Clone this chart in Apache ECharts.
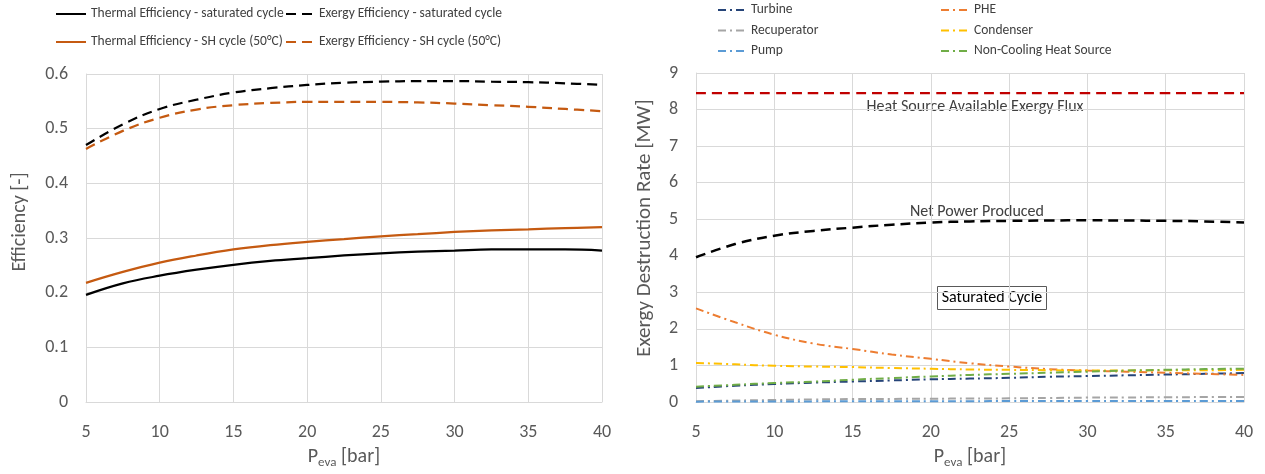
<!DOCTYPE html>
<html>
<head>
<meta charset="utf-8">
<script src="https://cdn.jsdelivr.net/npm/echarts@6/dist/echarts.min.js"></script>
<style>
  html, body { margin: 0; padding: 0; background: #fff; }
  #chart { width: 1265px; height: 474px; }
</style>
</head>
<body>
<div id="chart"></div>
<script>
// Evaporation pressure [bar]
const pEva = [5, 7.5, 10, 12.5, 15, 17.5, 20, 22.5, 25, 27.5, 30, 32.5, 35, 37.5, 40];

// Left panel: cycle efficiencies [-]
const thermalSat = [0.196, 0.217, 0.231, 0.242, 0.251, 0.258, 0.263, 0.268, 0.272, 0.275, 0.277, 0.279, 0.279, 0.279, 0.277];
const exergySat  = [0.470, 0.508, 0.536, 0.553, 0.566, 0.574, 0.580, 0.584, 0.586, 0.587, 0.587, 0.586, 0.585, 0.583, 0.580];
const thermalSH  = [0.218, 0.238, 0.255, 0.268, 0.279, 0.287, 0.293, 0.298, 0.303, 0.307, 0.311, 0.314, 0.316, 0.318, 0.320];
const exergySH   = [0.463, 0.496, 0.520, 0.535, 0.543, 0.547, 0.549, 0.549, 0.549, 0.548, 0.546, 0.543, 0.540, 0.536, 0.532];

// Right panel: exergy flows and destruction rates [MW], saturated cycle
const heatSourceFlux = [8.45, 8.45, 8.45, 8.45, 8.45, 8.45, 8.45, 8.45, 8.45, 8.45, 8.45, 8.45, 8.45, 8.45, 8.45];
const netPower       = [3.96, 4.32, 4.55, 4.68, 4.77, 4.85, 4.91, 4.94, 4.955, 4.965, 4.97, 4.965, 4.955, 4.94, 4.91];
const turbine        = [0.38, 0.445, 0.49, 0.53, 0.56, 0.59, 0.62, 0.64, 0.66, 0.69, 0.71, 0.73, 0.75, 0.77, 0.79];
const phe            = [2.56, 2.18, 1.84, 1.60, 1.45, 1.30, 1.18, 1.06, 0.97, 0.90, 0.86, 0.83, 0.80, 0.77, 0.74];
const recuperator    = [0.02, 0.04, 0.055, 0.07, 0.08, 0.085, 0.09, 0.095, 0.10, 0.11, 0.12, 0.125, 0.13, 0.135, 0.14];
const condenser      = [1.07, 1.03, 0.99, 0.97, 0.955, 0.93, 0.91, 0.89, 0.88, 0.87, 0.86, 0.86, 0.87, 0.87, 0.88];
const pump           = [0.01, 0.012, 0.015, 0.017, 0.02, 0.021, 0.022, 0.023, 0.025, 0.026, 0.027, 0.028, 0.029, 0.03, 0.03];
const nonCooling     = [0.42, 0.47, 0.52, 0.555, 0.61, 0.655, 0.70, 0.74, 0.77, 0.80, 0.83, 0.86, 0.88, 0.90, 0.91];

const FONT = 'Carlito, Lato';
const GRID = '#d9d9d9';
const TICK = '#595959';
const DASH = [10, 6];
const DASHDOT = [8, 4, 2, 4];

const pairs = ys => pEva.map((x, i) => [x, ys[i]]);

function lineSeries(name, ys, axis, color, width, type) {
  return {
    name, type: 'line', xAxisIndex: axis, yAxisIndex: axis,
    data: pairs(ys), smooth: 0.4, symbol: 'none',
    lineStyle: { color, width, type },
    itemStyle: { color },
    emphasis: { disabled: true }
  };
}

function xAxisFor(gridIndex) {
  return {
    type: 'value', gridIndex, min: 5, max: 40, interval: 5,
    axisLine: { show: true, lineStyle: { color: GRID, width: 1 } },
    axisTick: { show: false },
    axisLabel: { color: TICK, fontSize: 18, fontFamily: FONT, margin: 21 },
    splitLine: { show: true, lineStyle: { color: GRID, width: 1 } },
    name: '{p|P}{s|eva}{p| [bar]}',
    nameLocation: 'middle', nameGap: 43,
    nameTextStyle: {
      rich: {
        p: { fontSize: 20, color: TICK, fontFamily: FONT },
        s: { fontSize: 13, color: TICK, fontFamily: FONT, verticalAlign: 'bottom', padding: [11, 0, 0, 0] }
      }
    }
  };
}

function yAxisFor(gridIndex, max) {
  return {
    type: 'value', gridIndex, min: 0, max, interval: max === 9 ? 1 : 0.1,
    axisLine: { show: true, lineStyle: { color: GRID, width: 1 } },
    axisTick: { show: false },
    axisLabel: { color: TICK, fontSize: 18, fontFamily: FONT, margin: 18 },
    splitLine: { show: true, lineStyle: { color: GRID, width: 1 } }
  };
}

const legendText = { color: '#404040', fontSize: 13.5, fontFamily: FONT };
// legend keys show only the line sample, no symbol
const keyStyle = { color: 'transparent', borderWidth: 0 };

function legendColumn(names, left, top, itemWidth, itemGap) {
  return {
    data: names, orient: 'vertical', left, top, padding: 0,
    itemWidth, itemHeight: 14, itemGap,
    itemStyle: keyStyle, textStyle: legendText
  };
}

const option = {
  animation: false,
  textStyle: { fontFamily: FONT },
  grid: [
    { left: 86, right: 663, top: 74, bottom: 67 },
    { left: 696, right: 21, top: 73, bottom: 67 }
  ],
  xAxis: [xAxisFor(0), xAxisFor(1)],
  yAxis: [yAxisFor(0, 0.6), yAxisFor(1, 9)],
  legend: [
    legendColumn(['Thermal Efficiency - saturated cycle', 'Thermal Efficiency - SH cycle (50°C)'], 55, 7, 30, 14),
    legendColumn(['Exergy Efficiency - saturated cycle', 'Exergy Efficiency - SH cycle (50°C)'], 285, 7, 28, 14),
    legendColumn(['Turbine', 'Recuperator', 'Pump'], 717, 3, 28, 6.5),
    legendColumn(['PHE', 'Condenser', 'Non-Cooling Heat Source'], 940, 3, 28, 6.5)
  ],
  series: [
    lineSeries('Thermal Efficiency - saturated cycle', thermalSat, 0, '#000000', 2.25, 'solid'),
    lineSeries('Exergy Efficiency - saturated cycle', exergySat, 0, '#000000', 2.25, DASH),
    lineSeries('Thermal Efficiency - SH cycle (50°C)', thermalSH, 0, '#C55A11', 2.25, 'solid'),
    lineSeries('Exergy Efficiency - SH cycle (50°C)', exergySH, 0, '#C55A11', 2.25, DASH),

    lineSeries('Heat Source Available Exergy Flux', heatSourceFlux, 1, '#C00000', 2.25, DASH),
    lineSeries('Net Power Produced', netPower, 1, '#000000', 2.5, DASH),
    lineSeries('Turbine', turbine, 1, '#264478', 2, DASHDOT),
    lineSeries('PHE', phe, 1, '#ED7D31', 2, DASHDOT),
    lineSeries('Recuperator', recuperator, 1, '#A5A5A5', 2, DASHDOT),
    lineSeries('Condenser', condenser, 1, '#FFC000', 2, DASHDOT),
    lineSeries('Pump', pump, 1, '#5B9BD5', 2, DASHDOT),
    lineSeries('Non-Cooling Heat Source', nonCooling, 1, '#70AD47', 2, DASHDOT)
  ],
  graphic: [
    { type: 'text', x: 20, y: 222, rotation: Math.PI / 2,
      style: { text: 'Efficiency [-]', fill: TICK, font: '20px ' + FONT, align: 'center', verticalAlign: 'middle' } },
    { type: 'text', x: 645, y: 228, rotation: Math.PI / 2,
      style: { text: 'Exergy Destruction Rate [MW]', fill: TICK, font: '21px ' + FONT, align: 'center', verticalAlign: 'middle' } },
    { type: 'text', x: 975, y: 107,
      style: { text: 'Heat Source Available Exergy Flux', fill: '#404040', font: '16px ' + FONT, align: 'center', verticalAlign: 'middle' } },
    { type: 'text', x: 977, y: 212,
      style: { text: 'Net Power Produced', fill: '#404040', font: '16px ' + FONT, align: 'center', verticalAlign: 'middle' } },
    { type: 'rect', shape: { x: 937.5, y: 286.5, width: 109, height: 23 },
      style: { fill: '#ffffff', stroke: '#595959', lineWidth: 1 } },
    { type: 'text', x: 992, y: 298,
      style: { text: 'Saturated Cycle', fill: '#000000', font: '16px ' + FONT, align: 'center', verticalAlign: 'middle' } }
  ]
};

echarts.init(document.getElementById('chart'), null, { renderer: 'canvas' }).setOption(option);
</script>
</body>
</html>
